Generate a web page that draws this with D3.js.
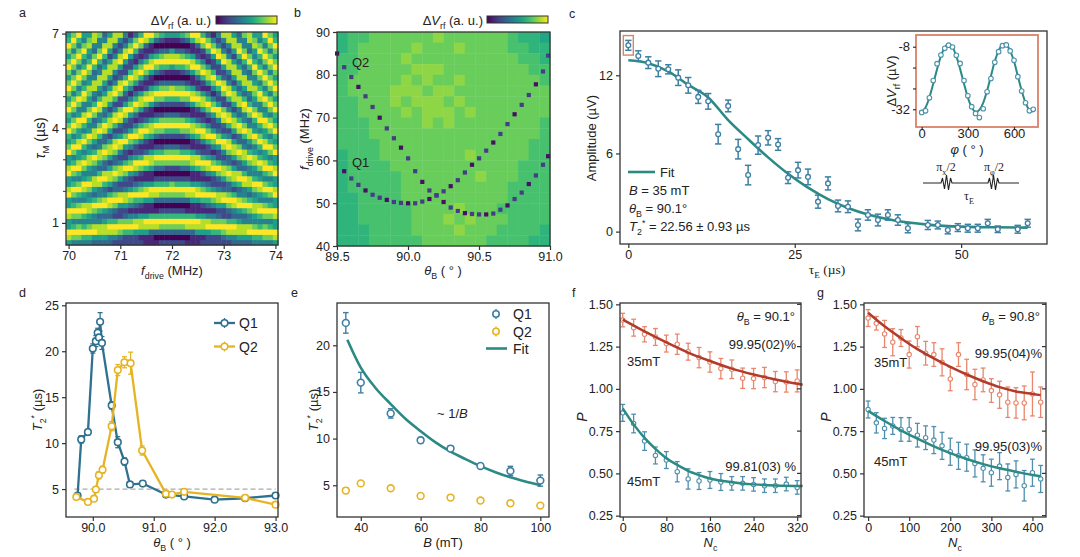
<!DOCTYPE html>
<html>
<head>
<meta charset="utf-8">
<script src="https://cdn.jsdelivr.net/npm/d3@7"></script>
<style>
  body { margin: 0; background: #fff; }
  svg { font-family: "Liberation Sans", Arial, sans-serif; }
</style>
</head>
<body>
<svg id="fig" width="1080" height="557"></svg>
<script>
// ---------- panel a : chevron, one string per drive frequency, tau_M bottom -> top ----------
var chevronFreq = [70.0,70.1,70.2,70.3,70.4,70.5,70.6,70.7,70.8,70.9,71.0,71.1,71.2,71.3,71.4,71.5,71.6,71.7,71.8,71.9,
  72.0,72.1,72.2,72.3,72.4,72.5,72.6,72.7,72.8,72.9,73.0,73.1,73.2,73.3,73.4,73.5,73.6,73.7,73.8,73.9,74.0];
var chevronTauRange = [0.3, 7.05];
var chevronCols = [
  "5895589559855985597569756975797579757965",
  "4796479647964796479647974797479747974797",
  "4797479746974698559855895479647974797469",
  "4696469845895479646974698448964796469745",
  "4697458854796458854795469745785479645875",
  "3598447963588447963588437963488436973488",
  "3588436974489635884369744896358843697447",
  "3588535984369833797338963488535885369843",
  "3489634896258852588525885258852588525885",
  "2489623797337973379842698426984248842488",
  "2379722598325884248952389722798325984248",
  "2269732588423796225973248952369622598424",
  "2269741479522597414795225974147962259741",
  "2259841369631489522697413796315885126973",
  "2158851269741279621489621588512697412796",
  "1158951159851169831269731279721379621389",
  "1138961158951158851158851159851159851169",
  "1038961038962037962037962037962037962037",
  "2037962037962037962027972027973026973026",
  "2037962037962027973026973026973016983015",
  "2037962037972027973026973026983015985015",
  "2037962037962027973026973026973016983015",
  "2037962037962037962027972027973026973026",
  "1038961038962037962037962037962037962037",
  "1138961158951158851158851159851159851169",
  "1158951159851169831269731279721379621389",
  "2158851269741279621489621588512697412796",
  "2259841369631489522697413796315885126973",
  "2269741479522597414795225974147962259741",
  "2269732588423796225973248952369622598424",
  "2379722598325884248952389722798325984248",
  "2489623797337973379842698426984248842488",
  "3489634896258852588525885258852588525885",
  "3588535984369833797338963488535885369843",
  "3588436974489635884369744896358843697447",
  "3598447963588447963588437963488436973488",
  "4697458854796458854795469745785479645875",
  "4696469845895479646974698448964796469745",
  "4797479746974698559855895479647974797469",
  "4796479647964796479647974797479747974797",
  "5895589559855985597569756975797579757965"
];

// ---------- panel b : background levels (rows top -> bottom) and resonance dots ----------
var mapBg = [
  "56677777787777776554",
  "56777778777877776655",
  "66777787777777777665",
  "66777778887777777766",
  "67777787877877777776",
  "67777888788777777777",
  "66777878887877777777",
  "66777787888787777777",
  "66677777878777777776",
  "66677777777777777776",
  "66667777777777777766",
  "56667777777787777766",
  "56666777777777777666",
  "56666677777778777666",
  "56666677777777776666",
  "55666677777777776666",
  "55666667777877766666",
  "55666667778787776666",
  "55566667777877766665",
  "55566666777777666655"
];
var q1Theta = [89.55,89.60,89.65,89.70,89.75,89.80,89.85,89.90,89.95,90.00,90.05,90.10,90.15,90.20,90.25,
  90.30,90.35,90.40,90.45,90.50,90.55,90.60,90.65,90.70,90.75,90.80,90.85,90.90,90.95,91.00];
var q1Freq = [57.5,55.8,54.3,53.0,52.0,51.3,50.8,50.3,50.1,50.0,50.0,50.4,51.0,51.9,52.8,
  54.0,55.4,57.2,59.0,60.5,62.3,64.2,66.2,68.5,70.8,73.0,75.3,77.8,80.8,84.5];
var q2Theta = [89.50,89.55,89.60,89.65,89.70,89.75,89.80,89.85,89.90,89.95,90.00,90.05,90.10,90.15,90.20,90.25,
  90.30,90.35,90.40,90.45,90.50,90.55,90.60,90.65,90.70,90.75,90.80,90.85,90.90,90.95,91.00];
var q2Freq = [85.0,81.8,79.5,77.2,75.0,72.5,70.0,67.5,65.2,63.0,60.5,57.5,55.0,53.0,51.8,50.3,
  49.0,48.2,47.7,47.5,47.4,47.4,47.6,48.5,49.5,51.0,52.5,54.5,56.5,59.0,61.0];

// ---------- panel c : Ramsey decay ----------
var echoTau = [0,1.5,3,4.5,6,7.5,9,10.5,12,13.5,15,16.5,18,19.5,21,22.5,24,25.5,27,28.5,30,31.5,33,34.5,36,37.5,39,40.5,42,45,46.5,48,49.5,51,52.5,54,55.5,58.5,60];
var echoAmp = [14.3,13.48,12.97,12.5,12.46,11.82,11.23,10.34,10.0,7.48,9.65,6.33,4.34,6.64,7.2,6.69,4.14,4.72,4.2,2.3,3.7,1.97,1.91,0.51,1.28,0.89,1.28,0.89,0.26,0.51,0.51,0.13,0.31,0.26,0.26,0.64,0.18,0.18,0.64];
var echoErr = [0.38,0.4,0.45,0.6,0.35,0.6,0.6,0.5,0.6,0.75,0.45,0.75,0.75,0.7,0.55,0.45,0.45,0.6,0.6,0.5,0.5,0.45,0.45,0.45,0.4,0.45,0.4,0.4,0.35,0.35,0.3,0.3,0.3,0.3,0.3,0.3,0.25,0.3,0.3];
var echoFitTau = [0,3,6,9,12,15,18,21,24,27,30,33,36,40,45,50,55,60];
var echoFitAmp = [13.15,12.93,12.3,11.26,10.3,8.56,7.1,5.7,4.44,3.37,2.49,1.81,1.31,0.85,0.54,0.38,0.33,0.31];
// inset
var phaseDeg = [0,25,50,75,100,125,150,175,200,225,250,275,300,325,350,375,400,425,450,475,500,525,550,575,600,625,650,675,700,725];
var phaseSignal = [-33.2,-32.6,-27.6,-21.0,-14.5,-11.2,-8.6,-7.4,-8.1,-11.3,-14.4,-21.0,-26.8,-31.0,-33.6,-35.2,-31.8,-25.3,-20.2,-14.0,-9.9,-7.6,-7.3,-9.6,-13.2,-19.5,-25.0,-29.5,-32.6,-32.0];
var phaseFit = [-32.95,-31.3,-27.5,-22.2,-16.6,-11.6,-8.2,-7.0,-8.2,-11.6,-16.6,-22.2,-27.5,-31.3,-32.95,-32.2,-29.5,-24.9,-19.3,-13.6,-9.6,-7.2,-7.2,-9.6,-13.6,-19.3,-24.9,-29.5,-32.2,-32.9];

// ---------- panel d : T2* vs angle ----------
var dQ1Theta = [89.75,89.81,89.92,90.0,90.05,90.08,90.1,90.12,90.15,90.31,90.41,90.52,90.61,90.82,91.2,91.5,92.0,92.5,93.0];
var dQ1T2 = [4.3,10.4,11.2,20.3,21.1,22.0,21.5,23.2,20.9,14.1,10.1,8.0,5.5,5.6,4.4,4.2,3.85,4.0,4.3];
var dQ1Err = [0.3,0.4,0.3,0.5,0.6,0.5,0.6,1.0,0.7,0.4,0.6,0.4,0.3,0.3,0.3,0.3,0.2,0.2,0.3];
var dQ2Theta = [89.73,89.92,90.02,90.05,90.1,90.16,90.31,90.41,90.52,90.62,90.81,91.2,91.3,91.5,92.5,93.0];
var dQ2T2 = [4.15,3.6,3.95,4.95,6.5,7.1,11.85,17.95,18.8,18.7,9.2,4.5,4.4,4.7,4.05,3.3];
var dQ2Err = [0.2,0.2,0.2,0.3,0.4,0.4,0.5,0.6,0.6,1.2,0.5,0.3,0.2,0.2,0.2,0.2];

// ---------- panel e : T2* vs field ----------
var eField = [35,40,50,60,70,80,90,100];
var eQ1T2 = [22.4,16.0,12.7,9.82,8.93,7.07,6.53,5.5];
var eQ1Err = [1.1,1.1,0.5,0.3,0.3,0.2,0.5,0.6];
var eQ2T2 = [4.43,5.2,4.68,3.86,3.68,3.36,3.07,2.82];
var eQ2Err = [0.3,0.2,0.2,0.15,0.15,0.15,0.15,0.15];
var eFitField = [35.5,40,45,50,55,60,65,70,75,80,85,90,95,100];
var eFitT2 = [20.6,17.6,15.4,13.7,12.1,10.8,9.6,8.6,7.8,7.05,6.4,5.85,5.4,5.0];

// ---------- panel f : theta_B = 90.1 ----------
var fNc = [0,20,40,60,80,100,120,140,160,180,200,220,240,260,280,300,320];
var f35 = [1.407,1.362,1.323,1.307,1.268,1.264,1.22,1.185,1.159,1.12,1.116,1.063,1.061,1.067,1.043,1.041,1.047];
var f35Err = [0.04,0.05,0.045,0.05,0.05,0.06,0.05,0.06,0.06,0.06,0.055,0.06,0.06,0.06,0.06,0.06,0.065];
var f45 = [0.858,0.795,0.691,0.606,0.579,0.51,0.467,0.455,0.461,0.449,0.441,0.441,0.435,0.427,0.427,0.437,0.417];
var f45Err = [0.05,0.055,0.055,0.05,0.05,0.06,0.06,0.05,0.05,0.05,0.04,0.04,0.04,0.04,0.04,0.04,0.04];
var f35FitNc = [0,40,80,120,160,200,240,280,320,330];
var f35Fit = [1.41,1.34,1.275,1.215,1.165,1.12,1.085,1.055,1.03,1.025];
var f45FitNc = [0,20,40,60,80,100,120,140,160,200,240,280,330];
var f45Fit = [0.885,0.79,0.71,0.645,0.59,0.55,0.515,0.49,0.47,0.448,0.435,0.428,0.425];

// ---------- panel g : theta_B = 90.8 ----------
var gNc = [0,20,40,60,80,100,120,140,160,180,200,220,240,260,280,300,320,340,360,380,400,420];
var g35 = [1.419,1.388,1.325,1.276,1.301,1.203,1.309,1.211,1.203,1.157,1.059,1.203,1.085,1.026,1.053,0.99,0.965,0.921,0.917,0.917,0.97,0.921];
var g35Err = [0.05,0.04,0.08,0.08,0.05,0.08,0.06,0.07,0.07,0.08,0.07,0.07,0.09,0.09,0.07,0.07,0.08,0.09,0.09,0.1,0.13,0.09];
var g45 = [0.878,0.799,0.766,0.781,0.76,0.76,0.726,0.711,0.697,0.663,0.628,0.604,0.593,0.559,0.53,0.504,0.543,0.476,0.494,0.427,0.504,0.467];
var g45Err = [0.05,0.06,0.06,0.05,0.07,0.07,0.07,0.07,0.08,0.08,0.08,0.08,0.08,0.08,0.08,0.08,0.08,0.08,0.08,0.09,0.08,0.08];
var g35FitNc = [0,40,80,120,160,200,240,280,320,360,400,420];
var g35Fit = [1.45,1.37,1.3,1.235,1.18,1.13,1.085,1.045,1.01,0.985,0.97,0.963];
var g45FitNc = [0,40,80,120,160,200,240,280,320,360,400,420];
var g45Fit = [0.87,0.81,0.755,0.705,0.66,0.62,0.585,0.555,0.53,0.51,0.49,0.483];

// ================= drawing =================
var FONT = '"Liberation Sans", Arial, sans-serif';
var SERIF = '"Liberation Serif", "Times New Roman", serif';
var INK = "#222";
var TICK = 12.5;
var svg = d3.select("#fig");

var BLUE = "#3e7fa3", GOLD = "#e6b422", TEAL = "#2b8a83", DARKBLUE = "#2f7190";
var SALMON = "#e9866c", RED = "#b23c2b", ORANGE = "#d9826a";

function frame(box) {
  svg.append("rect")
    .attr("x", box[0]).attr("y", box[1])
    .attr("width", box[2] - box[0]).attr("height", box[3] - box[1])
    .attr("fill", "none").attr("stroke", "#333").attr("stroke-width", 1.3);
}

function styleAxis(g, size) {
  g.select(".domain").remove();
  g.selectAll("text").attr("font-size", size || TICK).attr("fill", INK).attr("font-family", FONT);
  g.selectAll("line").attr("stroke", "#333").attr("stroke-width", 1.2);
}

function axes(box, x, y, xt, yt, xf, yf, mirror) {
  var gx = svg.append("g").attr("transform", "translate(0," + box[3] + ")")
    .call(d3.axisBottom(x).tickValues(xt).tickFormat(xf).tickSize(4).tickPadding(2));
  var gy = svg.append("g").attr("transform", "translate(" + box[0] + ",0)")
    .call(d3.axisLeft(y).tickValues(yt).tickFormat(yf).tickSize(4).tickPadding(3));
  styleAxis(gx); styleAxis(gy);
  if (mirror) {
    svg.append("g").selectAll("line").data(yt).join("line")
      .attr("x1", box[2] - 4).attr("x2", box[2])
      .attr("y1", d => y(d)).attr("y2", d => y(d))
      .attr("stroke", "#333").attr("stroke-width", 1.2);
  }
  frame(box);
}

// text with italic / sub / sup parts
function rich(x, y, parts, o) {
  o = o || {};
  var size = o.size || 13;
  var t = svg.append("text").attr("x", x).attr("y", y)
    .attr("font-size", size).attr("fill", o.fill || INK)
    .attr("text-anchor", o.anchor || "start")
    .attr("font-family", o.family || FONT);
  if (o.rotate) t.attr("transform", "rotate(-90," + x + "," + y + ")");
  var shift = 0;
  parts.forEach(function(p) {
    var s = typeof p === "string" ? p : p[0];
    var st = typeof p === "string" ? "" : p[1];
    var ts = t.append("tspan").text(s);
    var want = 0;
    if (st.indexOf("sub") >= 0) { want = 0.32; ts.attr("font-size", size * 0.68); }
    if (st.indexOf("sup") >= 0) { want = -0.42; ts.attr("font-size", size * 0.68); }
    if (st.indexOf("i") >= 0 && st !== "sub" && st !== "sup") ts.attr("font-style", "italic");
    var dy = (want - shift) * size;
    if (dy) ts.attr("dy", dy.toFixed(2));
    shift = want;
  });
  return t;
}

function label(ch, x, y) {
  svg.append("text").attr("x", x).attr("y", y).attr("font-size", 12.5)
    .attr("fill", INK).attr("font-family", FONT).text(ch);
}

function errorBars(xs, ys, es, x, y, color, cap, sw) {
  var g = svg.append("g").attr("stroke", color).attr("stroke-width", sw || 1.4);
  xs.forEach(function(xv, i) {
    var px = x(xv), lo = y(ys[i] - es[i]), hi = y(ys[i] + es[i]);
    g.append("line").attr("x1", px).attr("x2", px).attr("y1", lo).attr("y2", hi);
    g.append("line").attr("x1", px - cap).attr("x2", px + cap).attr("y1", lo).attr("y2", lo);
    g.append("line").attr("x1", px - cap).attr("x2", px + cap).attr("y1", hi).attr("y2", hi);
  });
}

function markers(xs, ys, x, y, color, r, sw) {
  svg.append("g").selectAll("circle").data(xs).join("circle")
    .attr("cx", d => x(d)).attr("cy", (d, i) => y(ys[i])).attr("r", r)
    .attr("fill", "#fff").attr("stroke", color).attr("stroke-width", sw || 1.4);
}

function curve(xs, ys, x, y, color, w, kind) {
  var line = d3.line().x(d => x(d[0])).y(d => y(d[1])).curve(kind || d3.curveMonotoneX);
  svg.append("path").attr("d", line(xs.map((v, i) => [v, ys[i]])))
    .attr("fill", "none").attr("stroke", color).attr("stroke-width", w)
    .attr("stroke-linejoin", "round");
}

function colorbar(x0, y0, x1, y1, id) {
  var grad = svg.append("defs").append("linearGradient").attr("id", id);
  d3.range(0, 1.001, 0.1).forEach(function(t) {
    grad.append("stop").attr("offset", t).attr("stop-color", d3.interpolateViridis(t));
  });
  svg.append("rect").attr("x", x0).attr("y", y0).attr("width", x1 - x0).attr("height", y1 - y0)
    .attr("fill", "url(#" + id + ")").attr("stroke", "#333").attr("stroke-width", 1);
}

// ---------------- panel a ----------------
(function() {
  var box = [66, 32, 278, 245];
  var x = d3.scaleLinear().domain([69.95, 74.05]).range([box[0], box[2]]);
  var y = d3.scaleLinear().domain(chevronTauRange).range([box[3], box[1]]);
  var nRow = chevronCols[0].length;
  var rowH = (chevronTauRange[1] - chevronTauRange[0]) / nRow;
  var cells = [];
  chevronCols.forEach(function(col, j) {
    col.split("").forEach(function(c, i) {
      cells.push({ f: chevronFreq[j], t: chevronTauRange[0] + i * rowH, v: +c });
    });
  });
  svg.append("g").selectAll("rect").data(cells).join("rect")
    .attr("x", d => x(d.f - 0.05)).attr("y", d => y(d.t + rowH))
    .attr("width", x(0.1) - x(0) + 0.5).attr("height", y(0) - y(rowH) + 0.5)
    .attr("fill", d => d3.interpolateViridis(d.v / 9));
  axes(box, x, y, [70, 71, 72, 73, 74], [1, 4, 7], d3.format("d"), d3.format("d"));
  svg.append("g").selectAll("line").data([2, 3, 5, 6]).join("line")
    .attr("x1", box[0] - 3).attr("x2", box[0]).attr("y1", d => y(d)).attr("y2", d => y(d))
    .attr("stroke", "#333").attr("stroke-width", 1);
  colorbar(216, 16, 277, 24, "cbA");
  rich(211, 25, ["\u0394", ["V", "i"], ["rf", "sub"], " (a. u.)"], { anchor: "end" });
  rich(172, 275, [["f", "i"], ["drive", "sub"], " (MHz)"], { anchor: "middle" });
  rich(45, 138, [["\u03C4", "i"], ["M", "sub"], " (\u00B5s)"], { anchor: "middle", rotate: true, size: 14 });
  label("a", 19, 17);
})();

// ---------------- panel b ----------------
(function() {
  var box = [337, 32, 550, 246];
  var x = d3.scaleLinear().domain([89.5, 91.0]).range([box[0], box[2]]);
  var y = d3.scaleLinear().domain([40, 90]).range([box[3], box[1]]);
  var level = d3.scaleLinear().domain([5, 8]).range([0.65, 0.83]);
  var nr = mapBg.length, nc = mapBg[0].length;
  var cw = (box[2] - box[0]) / nc, ch = (box[3] - box[1]) / nr;
  var cells = [];
  mapBg.forEach(function(row, i) {
    row.split("").forEach(function(c, j) { cells.push({ i: i, j: j, v: +c }); });
  });
  svg.append("g").selectAll("rect").data(cells).join("rect")
    .attr("x", d => box[0] + d.j * cw).attr("y", d => box[1] + d.i * ch)
    .attr("width", cw + 0.4).attr("height", ch + 0.4)
    .attr("fill", d => d3.interpolateViridis(level(d.v)));
  var dots = q1Theta.map((t, i) => [t, q1Freq[i]]).concat(q2Theta.map((t, i) => [t, q2Freq[i]]));
  svg.append("g").selectAll("rect").data(dots).join("rect")
    .attr("x", d => Math.min(x(d[0]) - 2, box[2] - 4)).attr("y", d => y(d[1]) - 2)
    .attr("width", 4.2).attr("height", 4.2)
    .attr("fill", (d, i) => d3.interpolateViridis(i % 3 === 0 ? 0.04 : 0.18));
  axes(box, x, y, [89.5, 90.0, 90.5, 91.0], [40, 50, 60, 70, 80, 90], d3.format(".1f"), d3.format("d"));
  rich(352, 67, ["Q2"], { size: 13 });
  rich(352, 167, ["Q1"], { size: 13 });
  colorbar(487, 16, 548, 23, "cbB");
  rich(483, 25, ["\u0394", ["V", "i"], ["rf", "sub"], " (a. u.)"], { anchor: "end" });
  rich(443, 275, [["\u03B8", "i"], ["B", "sub"], " ( \u00B0 )"], { anchor: "middle" });
  rich(309, 139, [["f", "i"], ["drive", "sub"], " (MHz)"], { anchor: "middle", rotate: true });
  label("b", 294, 17);
})();

// ---------------- panel c ----------------
(function() {
  var box = [620, 31, 1047, 244];
  var x = d3.scaleLinear().domain([-1.25, 62.9]).range([box[0], box[2]]);
  var y = d3.scaleLinear().domain([-0.95, 15.4]).range([box[3], box[1]]);
  curve(echoFitTau, echoFitAmp, x, y, TEAL, 2.6);
  errorBars(echoTau, echoAmp, echoErr, x, y, BLUE, 3.2, 1.5);
  markers(echoTau, echoAmp, x, y, BLUE, 2.4, 1.3);
  axes(box, x, y, [0, 25, 50], [0, 6, 12], d3.format("d"), d3.format("d"));
  // highlight box around the first point
  svg.append("rect").attr("x", x(echoTau[0]) - 5).attr("y", y(echoAmp[0] + 0.75))
    .attr("width", 10).attr("height", y(echoAmp[0] - 0.75) - y(echoAmp[0] + 0.75))
    .attr("fill", "none").attr("stroke", ORANGE).attr("stroke-width", 1.4);

  svg.append("line").attr("x1", 628).attr("x2", 655).attr("y1", 172).attr("y2", 172)
    .attr("stroke", TEAL).attr("stroke-width", 2.6);
  rich(660, 177, ["Fit"]);
  rich(629, 195, [["B", "i"], " = 35 mT"]);
  rich(629, 213, [["\u03B8", "i"], ["B", "sub"], " = 90.1\u00B0"]);
  rich(629, 231, [["T", "i"], ["2", "sub"], ["*", "sup"], " = 22.56 \u00B1 0.93 \u00B5s"]);
  rich(596, 138, ["Amplitude (\u00B5V)"], { anchor: "middle", rotate: true });
  rich(827, 274, [["\u03C4", ""], ["E", "sub"], " (\u00B5s)"], { anchor: "middle", family: SERIF, size: 13.5 });
  label("c", 569, 18);

  // inset
  var ib = [916, 35, 1038, 127];
  var xi = d3.scaleLinear().domain([-37, 756]).range([ib[0], ib[2]]);
  var yi = d3.scaleLinear().domain([-38.8, -3.5]).range([ib[3], ib[1]]);
  svg.append("rect").attr("x", ib[0]).attr("y", ib[1]).attr("width", ib[2] - ib[0]).attr("height", ib[3] - ib[1])
    .attr("fill", "#fff").attr("stroke", ORANGE).attr("stroke-width", 1.8);
  curve(phaseDeg, phaseFit, xi, yi, TEAL, 2, d3.curveCardinal);
  markers(phaseDeg, phaseSignal, xi, yi, "#4b93aa", 2.3, 1.1);
  var gy = svg.append("g").attr("transform", "translate(" + ib[0] + ",0)")
    .call(d3.axisLeft(yi).tickValues([-8, -16, -24, -32]).tickSize(3).tickPadding(3)
      .tickFormat(d => (d === -8 || d === -32) ? d : ""));
  styleAxis(gy, 13);
  var gx = svg.append("g").attr("transform", "translate(0," + ib[3] + ")")
    .call(d3.axisBottom(xi).tickValues([0, 300, 600]).tickSize(2).tickPadding(0).tickFormat(d3.format("d")));
  styleAxis(gx, 13);
  rich(896, 81, ["\u0394", ["V", "i"], ["rf", "sub"], " (\u00B5V)"], { anchor: "middle", rotate: true });
  rich(967, 154, [["\u03C6", "i"], " ( \u00B0 )"], { anchor: "middle" });

  // pulse sequence sketch
  var p = "M923,183 H941 l1.5,-5 l2,11 l2,-14 l2,15 l2,-12 l1.5,5 H988 l1.5,-5 l2,11 l2,-14 l2,15 l2,-12 l1.5,5 H1019";
  svg.append("path").attr("d", p).attr("fill", "none").attr("stroke", "#222").attr("stroke-width", 1.1);
  rich(946, 171, ["\u03C0", ["x", "sub"], "/2"], { anchor: "middle", family: SERIF, size: 12 });
  rich(994, 171, ["\u03C0", ["\u03C6", "sub"], "/2"], { anchor: "middle", family: SERIF, size: 12 });
  rich(969, 200, ["\u03C4", ["E", "sub"]], { anchor: "middle", family: SERIF, size: 12 });
})();

// ---------------- panel d ----------------
(function() {
  var box = [66, 303, 278, 517];
  var x = d3.scaleLinear().domain([89.56, 93.04]).range([box[0], box[2]]);
  var y = d3.scaleLinear().domain([1.96, 25.25]).range([box[3], box[1]]);
  svg.append("line").attr("x1", x(89.7)).attr("x2", x(93.0)).attr("y1", y(5)).attr("y2", y(5))
    .attr("stroke", "#aaa").attr("stroke-width", 1.2).attr("stroke-dasharray", "5,3");
  curve(dQ1Theta, dQ1T2, x, y, DARKBLUE, 2.3, d3.curveLinear);
  errorBars(dQ1Theta, dQ1T2, dQ1Err, x, y, DARKBLUE, 2.5, 1.3);
  markers(dQ1Theta, dQ1T2, x, y, DARKBLUE, 3.3, 1.6);
  curve(dQ2Theta, dQ2T2, x, y, GOLD, 2.3, d3.curveLinear);
  errorBars(dQ2Theta, dQ2T2, dQ2Err, x, y, GOLD, 2.5, 1.3);
  markers(dQ2Theta, dQ2T2, x, y, GOLD, 3.3, 1.6);
  axes(box, x, y, [90, 91, 92, 93], [5, 10, 15, 20, 25], d3.format(".1f"), d3.format("d"));
  [[DARKBLUE, 323, "Q1"], [GOLD, 346.5, "Q2"]].forEach(function(l) {
    svg.append("line").attr("x1", 214).attr("x2", 235).attr("y1", l[1]).attr("y2", l[1])
      .attr("stroke", l[0]).attr("stroke-width", 2.3);
    svg.append("line").attr("x1", 224.5).attr("x2", 224.5).attr("y1", l[1] - 5).attr("y2", l[1] + 5)
      .attr("stroke", l[0]).attr("stroke-width", 1.3);
    svg.append("circle").attr("cx", 224.5).attr("cy", l[1]).attr("r", 3.3)
      .attr("fill", "#fff").attr("stroke", l[0]).attr("stroke-width", 1.6);
    rich(239, l[1] + 5, [l[2]], { size: 14 });
  });
  rich(42, 410, [["T", "i"], ["2", "sub"], ["*", "sup"], " (\u00B5s)"], { anchor: "middle", rotate: true });
  rich(172, 547, [["\u03B8", "i"], ["B", "sub"], " ( \u00B0 )"], { anchor: "middle" });
  label("d", 19, 297);
})();

// ---------------- panel e ----------------
(function() {
  var box = [337, 303, 549, 517];
  var x = d3.scaleLinear().domain([32.05, 102.9]).range([box[0], box[2]]);
  var y = d3.scaleLinear().domain([1.6, 24.53]).range([box[3], box[1]]);
  curve(eFitField, eFitT2, x, y, TEAL, 2.6);
  errorBars(eField, eQ1T2, eQ1Err, x, y, BLUE, 2.8, 1.4);
  markers(eField, eQ1T2, x, y, BLUE, 3.4, 1.6);
  errorBars(eField, eQ2T2, eQ2Err, x, y, GOLD, 2.8, 1.4);
  markers(eField, eQ2T2, x, y, GOLD, 3.4, 1.6);
  axes(box, x, y, [40, 60, 80, 100], [5, 10, 15, 20], d3.format("d"), d3.format("d"));
  [[BLUE, 314, "Q1"], [GOLD, 331.5, "Q2"]].forEach(function(l) {
    svg.append("line").attr("x1", 496).attr("x2", 496).attr("y1", l[1] - 5).attr("y2", l[1] + 5)
      .attr("stroke", l[0]).attr("stroke-width", 1.3);
    svg.append("circle").attr("cx", 496).attr("cy", l[1]).attr("r", 3.2)
      .attr("fill", "#fff").attr("stroke", l[0]).attr("stroke-width", 1.6);
    rich(513, l[1] + 5, [l[2]], { size: 14 });
  });
  svg.append("line").attr("x1", 486).attr("x2", 507).attr("y1", 348.5).attr("y2", 348.5)
    .attr("stroke", TEAL).attr("stroke-width", 2.6);
  rich(513, 353.5, ["Fit"], { size: 14 });
  rich(437, 418, ["~ 1/", ["B", "i"]]);
  rich(318, 410, [["T", "i"], ["2", "sub"], ["*", "sup"], " (\u00B5s)"], { anchor: "middle", rotate: true });
  rich(443, 547, [["B", "i"], " (mT)"], { anchor: "middle" });
  label("e", 291, 297);
})();

// ---------------- panels f and g ----------------
function decayPanel(box, xd, xt, nc, p35, e35, p45, e45, fit35x, fit35, fit45x, fit45, texts, letter, lx) {
  var x = d3.scaleLinear().domain(xd).range([box[0], box[2]]);
  var y = d3.scaleLinear().domain([0.242, 1.508]).range([box[3], box[1]]);
  errorBars(nc, p35, e35, x, y, SALMON, 2.4, 1.3);
  markers(nc, p35, x, y, SALMON, 2.2, 1.1);
  errorBars(nc, p45, e45, x, y, "#4f8fad", 2.4, 1.3);
  markers(nc, p45, x, y, "#4f8fad", 2.2, 1.1);
  curve(fit35x, fit35, x, y, RED, 2.5);
  curve(fit45x, fit45, x, y, TEAL, 2.5);
  axes(box, x, y, xt, [0.25, 0.5, 0.75, 1.0, 1.25, 1.5], d3.format("d"), d3.format(".2f"), true);
  var cx = (box[0] + box[2]) / 2;
  rich(texts.thx, texts.thy, [["\u03B8", "i"], ["B", "sub"], " = " + texts.theta + "\u00B0"], { anchor: "end" });
  rich(texts.px, texts.p35y, [texts.pct35], { anchor: "end" });
  rich(texts.lx, texts.l35y, ["35mT"]);
  rich(texts.px, texts.p45y, [texts.pct45], { anchor: "end" });
  rich(texts.lx, texts.l45y, ["45mT"]);
  rich(box[0] - 33, 417, [["P", "i"]], { anchor: "middle", rotate: true, size: 14 });
  rich(cx, 547, [["N", "i"], ["c", "sub"]], { anchor: "middle" });
  label(letter, lx, 297);
}

decayPanel([620, 303, 801, 517], [-5, 327], [0, 80, 160, 240, 320], fNc, f35, f35Err, f45, f45Err,
  f35FitNc, f35Fit, f45FitNc, f45Fit,
  { thx: 795, thy: 321, theta: "90.1", px: 796, p35y: 349, pct35: "99.95(02)%", p45y: 471, pct45: "99.81(03) %",
    lx: 627, l35y: 366, l45y: 486 }, "f", 572);

decayPanel([864, 303, 1046, 517], [-10, 433], [0, 100, 200, 300, 400], gNc, g35, g35Err, g45, g45Err,
  g35FitNc, g35Fit, g45FitNc, g45Fit,
  { thx: 1040, thy: 321, theta: "90.8", px: 1042, p35y: 358, pct35: "99.95(04)%", p45y: 451, pct45: "99.95(03)%",
    lx: 874, l35y: 367, l45y: 466 }, "g", 817);
</script>
</body>
</html>
